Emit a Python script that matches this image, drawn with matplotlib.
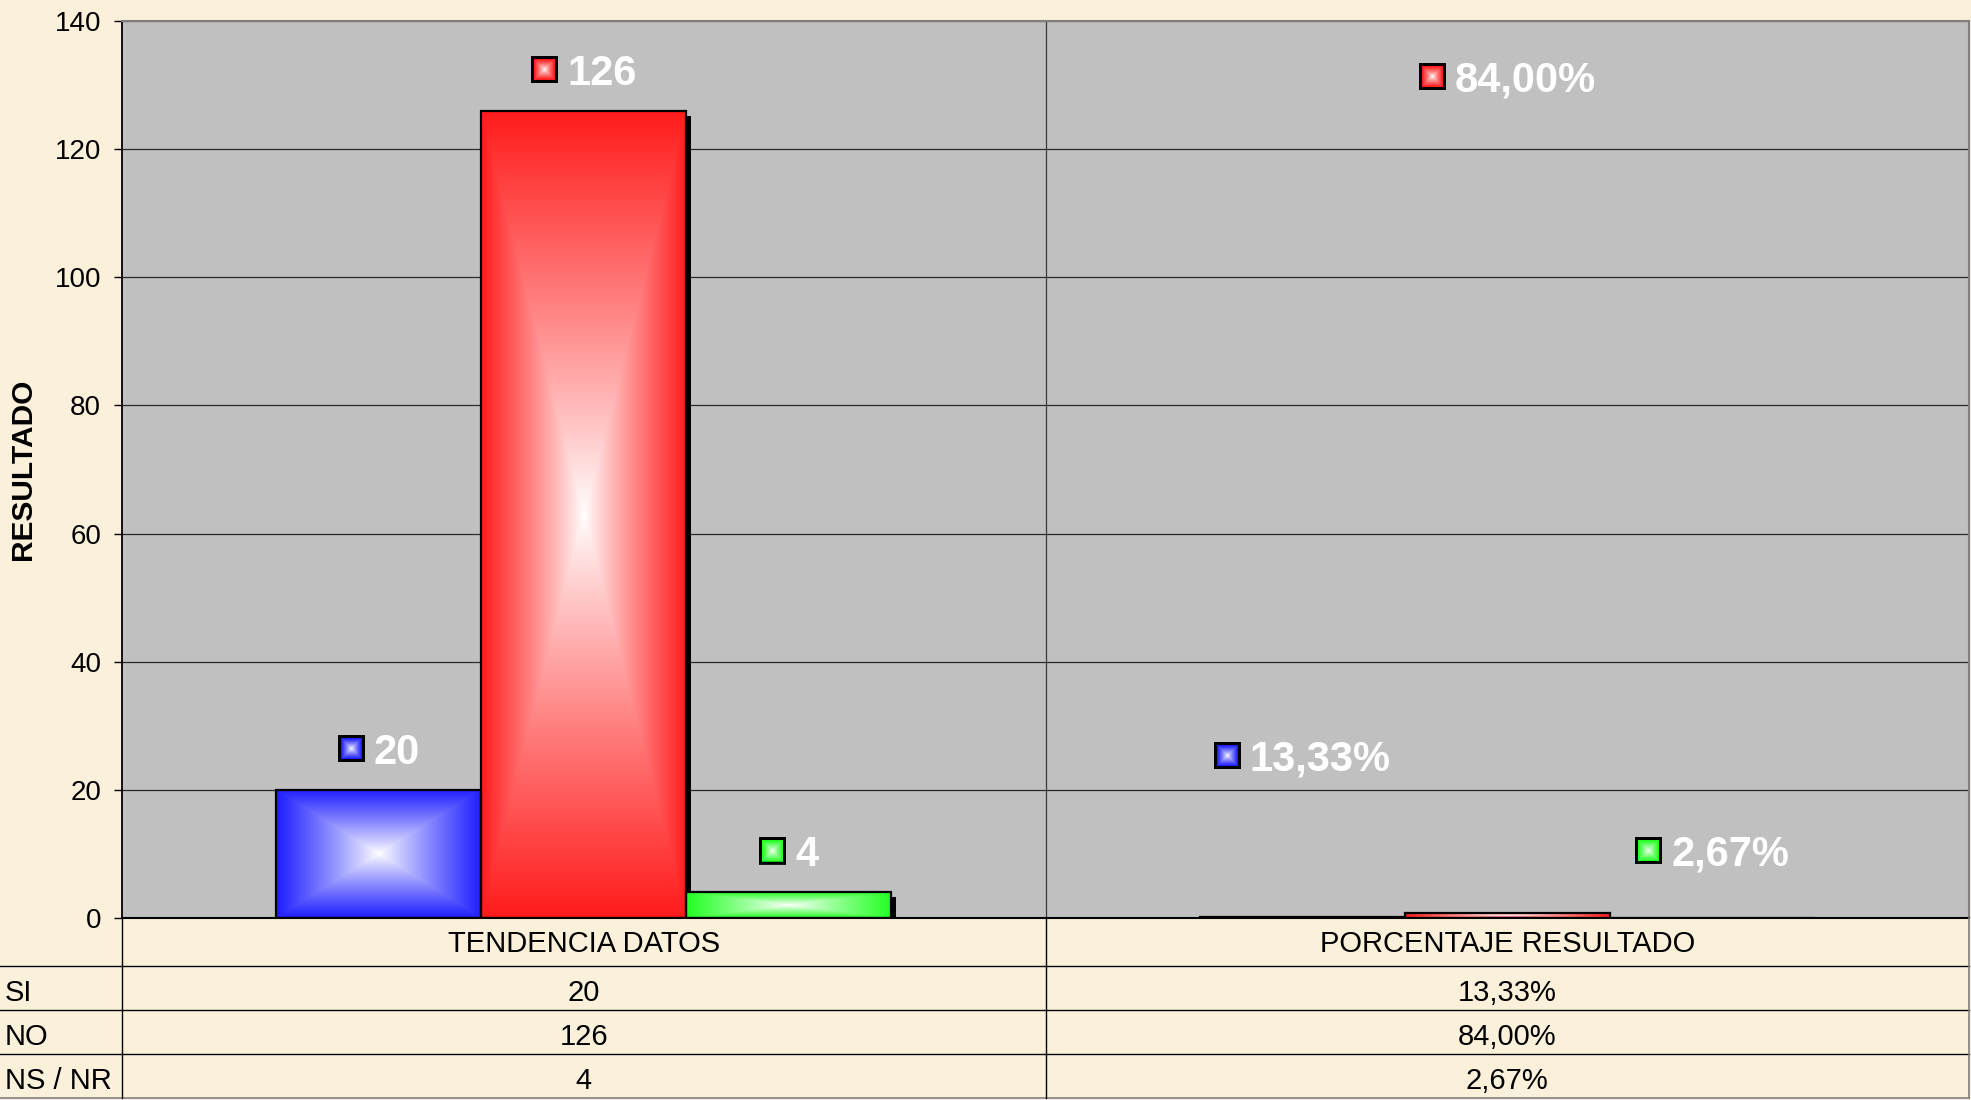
import numpy as np
import matplotlib
matplotlib.use('Agg')
import matplotlib.pyplot as plt
from matplotlib.transforms import ScaledTranslation, blended_transform_factory
from matplotlib.offsetbox import OffsetImage, TextArea, HPacker, AnnotationBbox
from matplotlib.colors import to_rgb
from matplotlib.lines import Line2D

plt.rcParams['font.family'] = ['Liberation Sans', 'DejaVu Sans']

# ---------------- data ----------------
categories = ['TENDENCIA DATOS', 'PORCENTAJE RESULTADO']
series_names = ['SI', 'NO', 'NS / NR']
tendencia = [20, 126, 4]
porcentaje = [0.1333, 0.84, 0.0267]
table_tendencia = ['20', '126', '4']
table_porcentaje = ['13,33%', '84,00%', '2,67%']
labels_tendencia = ['20', '126', '4']
labels_porcentaje = ['13,33%', '84,00%', '2,67%']
label_y_porcentaje = [24.8, 130.7, 9.9]   # labels dragged by hand in the original
label_offset = 5.8
series_colors = ['#1e1eff', '#ff1c1c', '#22ff22']
yticks = [0, 20, 40, 60, 80, 100, 120, 140]
y_title = 'RESULTADO'

# ---------------- figure ----------------
W, H = 1971, 1100
DPI = 100
fig = plt.figure(figsize=(W / DPI, H / DPI), dpi=DPI)
fig.patch.set_facecolor('#fbf0d9')

def fx(px):
    return px / W

def fy(py):
    return 1 - py / H

left_px, right_px, top_px, bot_px = 122, 1969, 21, 918
ax = fig.add_axes([fx(left_px), fy(bot_px), fx(right_px - left_px), (bot_px - top_px) / H])
ax.set_facecolor('#c0c0c0')

x = np.arange(len(categories))
bw = 0.222
offsets = [-bw, 0, bw]
values = [[tendencia[i], porcentaje[i]] for i in range(3)]


def rect_gradient(color, nx=200, ny=200, power=1.0):
    xs = np.linspace(-1, 1, nx)
    ys = np.linspace(-1, 1, ny)
    X, Y = np.meshgrid(xs, ys)
    t = np.maximum(np.abs(X), np.abs(Y)) ** power
    c = np.array(to_rgb(color))
    return 1 - t[..., None] * (1 - c)


shadow_tr = ax.transData + ScaledTranslation(5 / DPI, -5 / DPI, fig.dpi_scale_trans)

for i in range(3):
    ax.bar(x + offsets[i], values[i], width=bw, color='black', zorder=1.5,
           transform=shadow_tr, linewidth=0)
for i in range(3):
    bars = ax.bar(x + offsets[i], values[i], width=bw, facecolor='none',
                  edgecolor='black', linewidth=1.6, zorder=3)
    grad = rect_gradient(series_colors[i], power=0.9)
    for r in bars:
        x0, w, h = r.get_x(), r.get_width(), r.get_height()
        ax.imshow(grad, extent=[x0, x0 + w, 0, h], aspect='auto',
                  interpolation='bilinear', zorder=2)

ax.set_xlim(-0.5, 1.5)
ax.set_ylim(0, 140)
ax.set_yticks(yticks)
ax.set_xticks([])
ax.tick_params(axis='y', labelsize=20, length=6, width=1, pad=9, colors='black')
ax.set_axisbelow(True)
ax.yaxis.grid(True, color='#2a2a2a', linewidth=0.9)
ax.axvline(0.5, color='#3a3a3a', linewidth=0.9, zorder=0.6)
for s in ['top', 'right']:
    ax.spines[s].set_color('#808080')
    ax.spines[s].set_linewidth(1.5)
ax.spines['left'].set_color('black')
ax.spines['left'].set_linewidth(1.3)
ax.spines['bottom'].set_color('black')
ax.spines['bottom'].set_linewidth(1.5)

fig.text(fx(23), fy(469), y_title, rotation=90, fontsize=21.5,
         fontweight='bold', ha='center', va='center')


# ---------------- data labels ----------------
def key_img(color, n=27, border=3, pad_bottom=8):
    img = np.zeros((n + pad_bottom, n, 4))
    img[:n, :, 3] = 1.0
    inner = rect_gradient(color, n - 2 * border, n - 2 * border, power=0.8)
    img[border:n - border, border:n - border, :3] = inner
    return img


def add_label(xc, y, text, color):
    key = OffsetImage(key_img(color), zoom=1, dpi_cor=False)
    ta = TextArea(text, textprops=dict(color='white', fontsize=30, fontweight='bold'))
    box = HPacker(children=[key, ta], align='center', pad=0, sep=6.5)
    ab = AnnotationBbox(box, (xc, y), xycoords='data', frameon=False,
                        box_alignment=(0.5, 0.5), pad=0, zorder=6)
    ax.add_artist(ab)


for i in range(3):
    add_label(x[0] + offsets[i], tendencia[i] + label_offset, labels_tendencia[i], series_colors[i])
    add_label(x[1] + offsets[i], label_y_porcentaje[i], labels_porcentaje[i], series_colors[i])

# ---------------- data table ----------------
rows_px = [918, 966, 1010, 1054, 1098]
line_kw = dict(transform=fig.transFigure, color='black', linewidth=1.0)
for yy in rows_px[1:4]:
    fig.add_artist(Line2D([fx(0), fx(right_px)], [fy(yy), fy(yy)], **line_kw))
fig.add_artist(Line2D([fx(0), fx(right_px)], [fy(rows_px[4]), fy(rows_px[4])],
                      transform=fig.transFigure, color='#808080', linewidth=1.2))
fig.add_artist(Line2D([fx(left_px), fx(left_px)], [fy(bot_px), fy(rows_px[4])], **line_kw))
fig.add_artist(Line2D([fx(right_px), fx(right_px)], [fy(bot_px), fy(rows_px[4])],
                      transform=fig.transFigure, color='#808080', linewidth=1.2))
btr = blended_transform_factory(ax.transData, fig.transFigure)
fig.add_artist(Line2D([0.5, 0.5], [fy(bot_px), fy(rows_px[4])], transform=btr,
                      color='black', linewidth=1.0))

cell_fs = 21
for j, cat in enumerate(categories):
    ax.text(x[j], fy((rows_px[0] + rows_px[1]) / 2 + 2), cat, transform=btr,
            ha='center', va='center', fontsize=cell_fs, clip_on=False)
cols = [table_tendencia, table_porcentaje]
for i, name in enumerate(series_names):
    yc = fy((rows_px[i + 1] + rows_px[i + 2]) / 2 + 5)
    fig.text(fx(5), yc, name, ha='left', va='center', fontsize=cell_fs)
    for j in range(2):
        ax.text(x[j], yc, cols[j][i], transform=btr, ha='center', va='center',
                fontsize=cell_fs, clip_on=False)

fig.savefig('out.png', dpi=DPI, facecolor=fig.get_facecolor())
